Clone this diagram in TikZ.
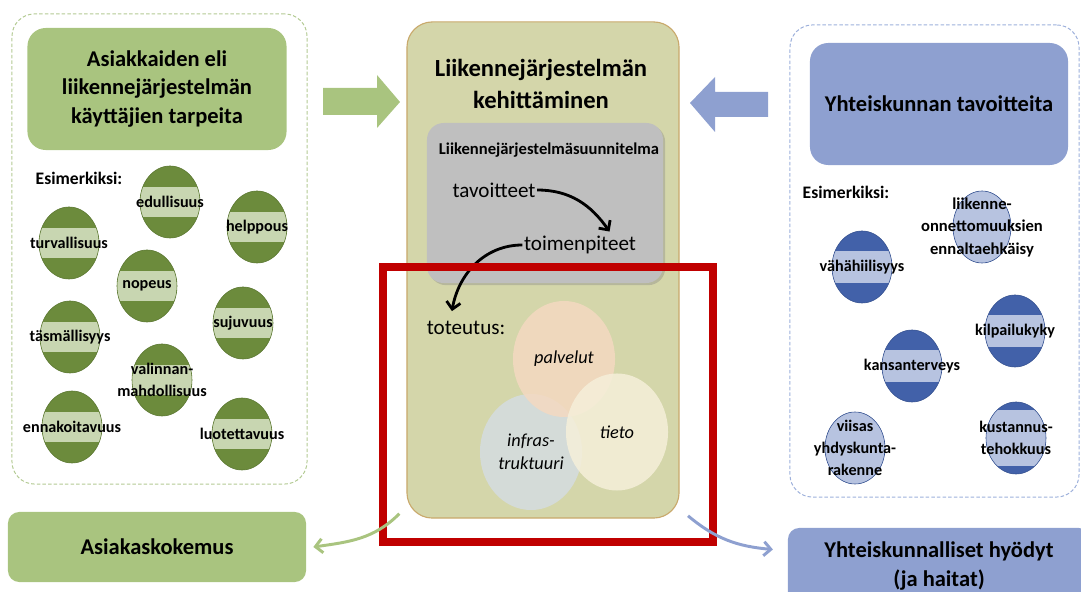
\documentclass[tikz,border=0pt]{standalone}
\usepackage{fontspec}
\setmainfont{Carlito}
\usetikzlibrary{shapes.geometric,arrows.meta,shadows}

\definecolor{needbox}{HTML}{A9C47F}
\definecolor{neededge}{HTML}{B3CA93}
\definecolor{needdark}{HTML}{6C8B3C}
\definecolor{needline}{HTML}{5A7630}
\definecolor{needlight}{HTML}{C8D6B1}
\definecolor{goalbox}{HTML}{8EA0D0}
\definecolor{goaledge}{HTML}{9DB0DB}
\definecolor{goaldark}{HTML}{4261A9}
\definecolor{goalline}{HTML}{34508F}
\definecolor{goallight}{HTML}{B7C3E0}
\definecolor{devfill}{HTML}{D4D6AA}
\definecolor{devline}{HTML}{C9A96C}
\definecolor{planfill}{HTML}{BFBFBF}
\definecolor{palvfill}{HTML}{F4D9C1}
\definecolor{infrafill}{HTML}{D5DCE1}
\definecolor{tietofill}{HTML}{F5EFDA}
\definecolor{redframe}{HTML}{C00000}

\begin{document}
\begin{tikzpicture}[x=0.025cm,y=0.025cm,inner sep=1pt,
  >={Straight Barb[length=5pt,width=10pt]},
  frame/.style={draw=#1,dash pattern=on 2.5pt off 1.5pt,line width=0.7pt,rounded corners=16pt},
  title/.style={fill=#1,rounded corners=13pt,inner sep=0pt,align=center,
    font=\fontsize{16}{20.6}\selectfont\bfseries},
  lbl/.style={font=\fontsize{11.5}{15.5}\selectfont\bfseries,align=center,inner sep=0pt},
  need/.style={ellipse,draw=needline,fill=needdark,minimum width=1.5cm,minimum height=1.8cm,inner sep=0pt,
    path picture={\fill[needlight] ([yshift=-11pt]path picture bounding box.west)
      rectangle ([yshift=11pt]path picture bounding box.east);}},
  goal/.style={ellipse,draw=goalline,fill=goaldark,minimum width=1.5cm,minimum height=1.8cm,inner sep=0pt,
    path picture={\fill[goallight] ([yshift=-#1]path picture bounding box.west)
      rectangle ([yshift=#1]path picture bounding box.east);}},
  goal/.default=11.5pt,
  venn/.style={ellipse,fill=#1,fill opacity=0.85,text opacity=1,minimum width=2.55cm,minimum height=2.9cm,
    font=\fontsize{13}{16}\selectfont\itshape,align=center,inner sep=0pt},
  plain/.style={font=\fontsize{15}{18}\selectfont},
  esim/.style={font=\fontsize{12.5}{15}\selectfont\bfseries}]
\useasboundingbox (0,0) rectangle (1081,592);

% left side: needs of the users
\node[frame=neededge,minimum width=7.375cm,minimum height=11.75cm] (needframe) at (159.5,343) {};
\node[title=needbox,minimum width=6.475cm,minimum height=3.05cm] (needs) at (157,503)
  {Asiakkaiden eli\\liikennejärjestelmän\\käyttäjien tarpeita};
\node[esim] (esim1) at (79,414) {Esimerkiksi:};
\node[need,label={[lbl]center:edullisuus}] (edu) at (170,390) {};
\node[need,label={[lbl]center:helppous}] (help) at (257,365) {};
\node[need,label={[lbl]center:turvallisuus}] (turv) at (69,349) {};
\node[need,label={[lbl]center:nopeus}] (nop) at (147,306) {};
\node[need,label={[lbl]center:täsmällisyys}] (tasm) at (70,255) {};
\node[need,label={[lbl]center:sujuvuus}] (suju) at (243,269) {};
\node[need,label={[lbl]center:valinnan-\\mahdollisuus}] (vali) at (162,212) {};
\node[need,label={[lbl]center:ennakoitavuus}] (enna) at (72,165) {};
\node[need,label={[lbl]center:luotettavuus}] (luot) at (242,158) {};
\node[title=needbox,rounded corners=8pt,minimum width=7.45cm,minimum height=1.75cm] (asiak) at (157,45) {Asiakaskokemus};

% block arrows into the middle
\fill[needbox] (323,504) -- (377,504) -- (377,517) -- (400,490) -- (377,464) -- (377,477) -- (323,477) -- cycle;
\fill[goalbox] (768,500) -- (715,500) -- (715,515) -- (690,489) -- (715,460) -- (715,475) -- (768,475) -- cycle;

% middle: development of the system
\node[fill=devfill,draw=devline,line width=0.8pt,rounded corners=18pt,minimum width=6.8cm,minimum height=12.4cm] (dev) at (543,322) {};
\node[align=center,font=\fontsize{17.5}{23}\selectfont\bfseries] (devtitle) at (541,508) {Liikennejärjestelmän\\kehittäminen};
\node[fill=planfill,rounded corners=12pt,minimum width=5.9cm,minimum height=4cm,
  drop shadow={shadow xshift=1.5pt,shadow yshift=-1.5pt,opacity=0.35}] (plan) at (545,389) {};
\node[font=\fontsize{11.8}{14}\selectfont\bfseries] (plantitle) at (549,442) {Liikennejärjestelmäsuunnitelma};
\node[plain] (tav) at (494,402) {tavoitteet};
\node[plain] (toim) at (580,347) {toimenpiteet};
\node[plain] (tot) at (466,264) {toteutus:};
\draw[line width=2pt,->] (tav.east) to[out=0,in=125] ([xshift=21pt,yshift=2pt]toim.north);
\draw[line width=2pt,->] (toim.west) to[out=180,in=80] ([xshift=-10pt,yshift=6pt]tot.north);
\node[venn=infrafill] (infra) at (531,140) {infras-\\truktuuri};
\node[venn=palvfill] (palv) at (564,233) {palvelut};
\node[venn=tietofill,minimum height=2.925cm] (tieto) at (617,160) {tieto};
\draw[redframe,line width=5.7pt] (383,50) rectangle (713,325);

% right side: goals of the society
\node[frame=goaledge,minimum width=7.225cm,minimum height=11.8cm] (goalframe) at (934.5,331) {};
\node[title=goalbox,minimum width=6.45cm,minimum height=3.05cm] (goals) at (939,488) {Yhteiskunnan tavoitteita};
\node[esim] (esim2) at (846,400) {Esimerkiksi:};
\node[goal=40pt,minimum width=1.45cm,
  label={[lbl,font=\fontsize{11.8}{16}\selectfont\bfseries]center:liikenne-\\onnettomuuksien\\ennaltaehkäisy}] (liik) at (982,365) {};
\node[goal,label={[lbl]center:vähähiilisyys}] (vaha) at (862,325) {};
\node[goal,label={[lbl]center:kilpailukyky}] (kilp) at (1015,261) {};
\node[goal,label={[lbl]center:kansanterveys}] (kans) at (912,226) {};
\node[goal=40pt,label={[lbl]center:viisas\\yhdyskunta-\\rakenne}] (viis) at (855,144) {};
\node[goal=20pt,label={[lbl]center:kustannus-\\tehokkuus}] (kust) at (1016,154) {};
\node[title=goalbox,rounded corners=8pt,minimum width=7.55cm,minimum height=1.9cm] (yhteis) at (939,26)
  {Yhteiskunnalliset hyödyt\\(ja haitat)};

% results
\draw[needbox,line width=2.1pt,->] ([xshift=-5pt,yshift=3.5pt]dev.south west) to[out=225,in=8] ([xshift=5pt]asiak.east);
\draw[goalbox,line width=2.1pt,->] ([xshift=6pt,yshift=2pt]dev.south east) to[out=-40,in=175] ([xshift=-10.5pt,yshift=-15.5pt]yhteis.north west);
\end{tikzpicture}
\end{document}
